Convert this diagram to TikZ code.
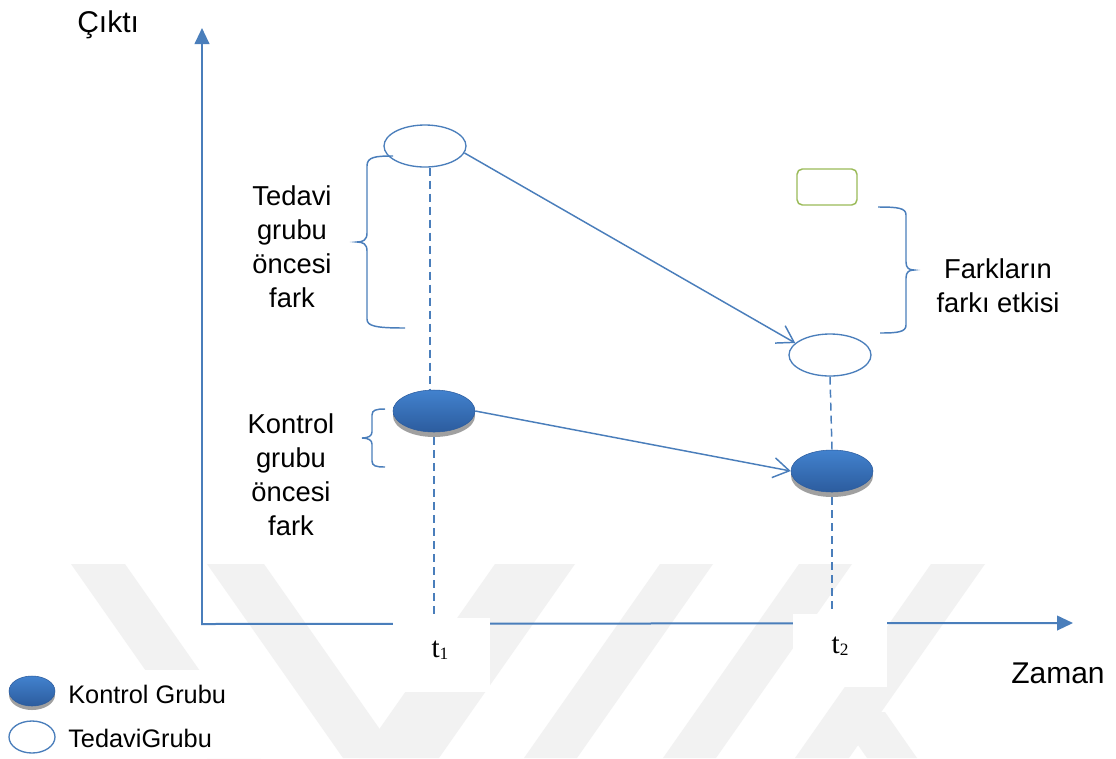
\documentclass[tikz,border=0pt]{standalone}
\usepackage{fontspec}
\setmainfont{Liberation Sans}
\newfontfamily\tnr{Liberation Serif}
\usetikzlibrary{arrows.meta,shapes.geometric}
\definecolor{lblue}{RGB}{74,126,187}
\definecolor{kbtop}{RGB}{66,130,206}
\definecolor{kbbot}{RGB}{44,92,158}
\definecolor{shad}{RGB}{160,160,160}
\definecolor{wm}{RGB}{242,242,242}
\definecolor{grn}{RGB}{155,187,89}
\begin{document}
\begin{tikzpicture}[x=0.75pt,y=-0.75pt,
  axis/.style={draw=lblue,line width=1.5pt,line cap=rect,-{Triangle[length=12pt,width=11pt]}},
  conn/.style={draw=lblue,line width=1.1pt,-{Straight Barb[length=12pt,width=15pt]}},
  dsh/.style={draw=lblue,line width=1.1pt,dash pattern=on 6pt off 3.75pt},
  ted/.style={ellipse,draw=lblue,line width=1pt,fill=white,inner sep=0pt},
  kon/.style={ellipse,inner sep=0pt,top color=kbtop,bottom color=kbbot,draw=kbbot,line width=0.4pt},
  kshad/.style={ellipse,inner sep=0pt,fill=shad},
  bigell/.style={minimum width=61.5pt,minimum height=31.5pt},
  lbl/.style={align=center,font=\fontsize{20.5}{25.5}\selectfont,inner sep=0pt},
  axlbl/.style={anchor=base west,inner sep=0pt,font=\fontsize{22.5}{26}\selectfont},
  leglbl/.style={anchor=base west,inner sep=0pt,font=\fontsize{19}{22}\selectfont},
  tlbl/.style={anchor=base,inner sep=0pt,font=\tnr\fontsize{22}{26}\selectfont},
  wbox/.style={fill=white,inner sep=0pt},
  brace/.style={draw=lblue,line width=1.1pt},
  ]
\path[use as bounding box,fill=white] (0,0) rectangle (1116,758);
% watermark
\fill[wm] (71,564) -- (125,564) -- (261,758) -- (207,758) -- cycle;
\fill[wm] (207,564) -- (264,564) -- (400,758) -- (343,758) -- cycle;
\fill[wm] (495,564) -- (575,564) -- (439,758) -- (359,758) -- cycle;
\fill[wm] (660,564) -- (713,564) -- (577,758) -- (524,758) -- cycle;
\fill[wm] (799,564) -- (852,564) -- (716,758) -- (663,758) -- cycle;
\fill[wm] (931,564) -- (985,564) -- (849,758) -- (795,758) -- cycle;
\fill[wm] (835,712) -- (885,712) -- (917,758) -- (867,758) -- cycle;
% axes
\coordinate (O) at (202,624);
\coordinate (ytip) at (202,28);
\coordinate (xtip) at (1073,623);
\draw[axis] (O) -- (ytip);
\draw[axis] (O) -- (xtip);
% white boxes
\node[wbox,minimum width=72.75pt,minimum height=55.5pt] (b1) at (441.5,655) {};
\node[wbox,minimum width=70.5pt,minimum height=54.75pt] (b2) at (840,650.5) {};
\node[wbox,minimum width=196.5pt,minimum height=66pt] (legbox) at (131,714) {};
% ellipses
\node[ted,bigell] (tt1) at (425,146) {};
\node[ted,bigell] (tt2) at (830,355) {};
\node[kshad,bigell] (k1s) at (434,416) {};
\node[kon,bigell] (k1) at (434,411) {};
\node[kshad,bigell] (k2s) at (832,476) {};
\node[kon,bigell] (k2) at (832,471) {};
% dashed verticals
\coordinate (d1) at (430,300);
\draw[dsh] (d1 |- tt1.south) -- (d1 |- k1.north);
\draw[dsh] (k1s.south) -- (k1s.south |- b1.north);
\draw[dsh] (tt2.south) -- (k2.north);
\draw[dsh] (k2s.south) -- (k2s.south |- b2.north);
% connectors
\draw[conn] (tt1.-10) -- (tt2.161);
\draw[conn] (k1.east) -- (k2.west);
% green box
\node[draw=grn,line width=1.1pt,rounded corners=4pt,minimum width=45pt,minimum height=27pt,inner sep=0pt] (gbox) at (827,187) {};
% braces
\draw[brace] (393,156) .. controls (375,156) and (367,157) .. (367,166) -- (367,233) .. controls (367,240) and (363,242) .. (357,242) .. controls (363,242) and (367,244) .. (367,251) -- (367,319) .. controls (367,326) and (375,328) .. (405,328);
\draw[brace] (385,409) .. controls (376,409) and (372,410) .. (372,415) -- (372,432) .. controls (372,436) and (368,438) .. (362,438) .. controls (368,438) and (372,440) .. (372,444) -- (372,461) .. controls (372,466) and (376,467) .. (385,467);
\draw[brace] (878,207) .. controls (898,207) and (906,208) .. (906,215) -- (906,262) .. controls (906,268) and (909,270) .. (914,270) .. controls (909,270) and (906,272) .. (906,278) -- (906,325) .. controls (906,332) and (898,333) .. (880,333);
% labels
\node[lbl] (ltd) at (292,247) {Tedavi\\grubu\\öncesi\\fark};
\node[lbl] (lkn) at (291,475) {Kontrol\\grubu\\öncesi\\fark};
\node[lbl] (lfk) at (998,286) {Farkların\\farkı etkisi};
\node[axlbl] (cikti) at (77,32) {Çıktı};
\node[axlbl] (zaman) at (1011,683) {Zaman};
\node[tlbl] (t1) at (440,657) {t\raisebox{-2pt}{\fontsize{13}{13}\selectfont 1}};
\node[tlbl] (t2) at (840,653) {t\raisebox{-2pt}{\fontsize{13}{13}\selectfont 2}};
% legend
\node[kshad,minimum width=34.5pt,minimum height=22.5pt] (lks) at (32,695) {};
\node[kon,minimum width=34.5pt,minimum height=22.5pt] (lk) at (32,691) {};
\node[ted,minimum width=34.5pt,minimum height=24pt] (lt) at (32,737) {};
\node[leglbl] (lktx) at (68,703) {Kontrol Grubu};
\node[leglbl] (lttx) at (68,747) {TedaviGrubu};
\end{tikzpicture}
\end{document}
